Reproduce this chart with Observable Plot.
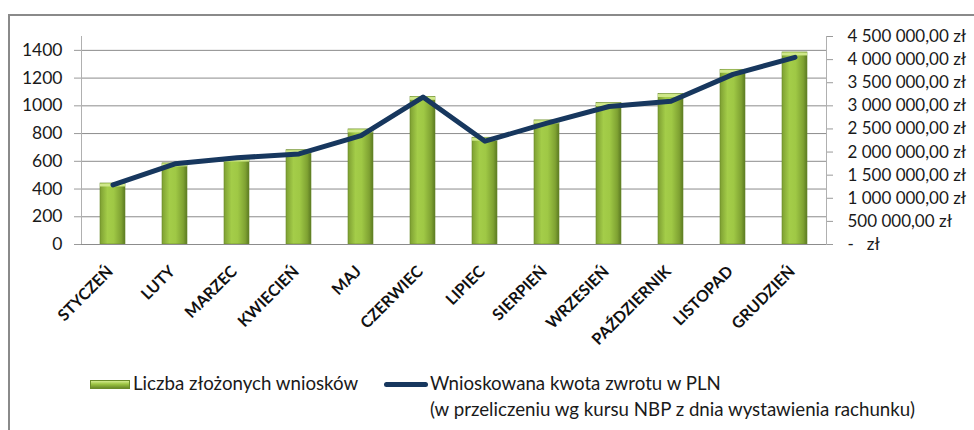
<!DOCTYPE html>
<html>
<head>
<meta charset="utf-8">
<script src="https://cdn.jsdelivr.net/npm/d3@7"></script>
<script src="https://cdn.jsdelivr.net/npm/@observablehq/plot@0.6"></script>
<style>
  html, body { margin: 0; padding: 0; background: #fff; }
  body { width: 974px; height: 430px; position: relative; overflow: hidden; font-family: Lato, "Open Sans", sans-serif; }
  #frame { position: absolute; left: 8px; top: 14px; width: 1100px; height: 600px; border-left: 2px solid #8a8a8a; border-top: 2px solid #8a8a8a; box-sizing: border-box; }
  #chart { position: absolute; left: 0; top: 0; }
  #legend { position: absolute; left: 90px; top: 370px; font-size: 18.7px; color: #1a1a1a; line-height: 26px; }
  .item { position: absolute; white-space: nowrap; }
  .sw-bar { display: inline-block; width: 40px; height: 9px; vertical-align: middle; margin-right: 3px; background: linear-gradient(#d2ea8c, #9cc443 45%, #6b8c2a); border: 1px solid #6b8c2a; box-sizing: border-box; position: relative; top: -1px; }
  .sw-line { display: inline-block; width: 44px; height: 5px; border-radius: 3px; background: #17375e; vertical-align: middle; margin-right: 2px; position: relative; top: -1px; }
</style>
</head>
<body>
<div id="frame"></div>
<div id="chart"></div>
<div id="legend">
  <div class="item" style="left:0; top:0;"><span class="sw-bar"></span>Liczba złożonych wniosków</div>
  <div class="item" style="left:294px; top:0;"><span class="sw-line"></span>Wnioskowana kwota zwrotu w PLN<br><span style="padding-left:46px">(w przeliczeniu wg kursu NBP z dnia wystawienia rachunku)</span></div>
</div>
<script>
const months = ["STYCZEŃ","LUTY","MARZEC","KWIECIEŃ","MAJ","CZERWIEC","LIPIEC","SIERPIEŃ","WRZESIEŃ","PAŹDZIERNIK","LISTOPAD","GRUDZIEŃ"];
const applications = [440, 585, 620, 680, 830, 1065, 770, 895, 1020, 1085, 1260, 1385];
const amountsPLN = [1290000, 1745000, 1875000, 1960000, 2355000, 3190000, 2235000, 2625000, 2985000, 3100000, 3680000, 4050000];
const leftTicks = [0, 200, 400, 600, 800, 1000, 1200, 1400];
const rightTicks = [0, 500000, 1000000, 1500000, 2000000, 2500000, 3000000, 3500000, 4000000, 4500000];
const leftMax = 1500;
const rightMax = 4500000;

const ratio = leftMax / rightMax;
const data = months.map((m, i) => ({month: m, count: applications[i], amount: amountsPLN[i] * ratio}));

function fmtPLN(v) {
  v = Math.round(v);
  if (v === 0) return "-\u00a0\u00a0\u00a0zł";
  return String(v).replace(/\B(?=(\d{3})+(?!\d))/g, " ") + ",00 zł";
}

const chart = Plot.plot({
  width: 974,
  height: 350,
  marginLeft: 81,
  marginRight: 148,
  marginTop: 36,
  marginBottom: 106,
  style: {fontFamily: "Lato, 'Open Sans', sans-serif", color: "#1a1a1a", background: "transparent", overflow: "visible"},
  x: {domain: months, paddingInner: 0.6, paddingOuter: 0.3, axis: null},
  y: {domain: [0, leftMax], axis: null},
  marks: [
    Plot.gridY(leftTicks, {stroke: "#8c8c8c", strokeOpacity: 1, strokeWidth: 1}),
    Plot.axisY({anchor: "left", ticks: leftTicks, tickSize: 7, stroke: "#9a9a9a", tickFormat: () => "", label: null}),
    Plot.text(leftTicks, {y: d => d, text: d => String(d), frameAnchor: "left", dx: -19, textAnchor: "end", fontSize: 17.5, fill: "#1a1a1a"}),
    Plot.frame({anchor: "left", stroke: "#b0b0b0"}),
    Plot.axisY({anchor: "right", ticks: rightTicks.map(v => v * ratio), tickSize: 6, stroke: "#9a9a9a", tickFormat: () => "", label: null}),
    Plot.text(rightTicks, {y: d => d * ratio, text: d => fmtPLN(d), frameAnchor: "right", dx: 21, textAnchor: "start", fontSize: 17, fill: "#1a1a1a"}),
    Plot.frame({anchor: "right", stroke: "#b0b0b0"}),
    Plot.barY(data, {x: "month", y: "count", fill: "url(#barGrad)", stroke: "#6a8a2a", strokeWidth: 0.6}),
    Plot.tickY(data, {x: "month", y: "count", stroke: "#cfe88a", strokeWidth: 3, dy: 1.5}),
    Plot.ruleY([0], {stroke: "#8c8c8c"}),
    Plot.line(data, {x: "month", y: "amount", stroke: "#17375e", strokeWidth: 5, strokeLinejoin: "round", strokeLinecap: "round"}),
    Plot.text(data, {x: "month", text: "month", frameAnchor: "bottom", dy: 28, dx: 1, rotate: -45, textAnchor: "end", lineAnchor: "bottom", fontWeight: "bold", fontSize: 16, fill: "#111"})
  ]
});

const defs = d3.select(chart).insert("defs", ":first-child");
const g = defs.append("linearGradient").attr("id", "barGrad").attr("x1", 0).attr("x2", 1).attr("y1", 0).attr("y2", 0);
[["0%", "#7d9f32"], ["30%", "#a4cd49"], ["55%", "#9fc845"], ["85%", "#7fa232"], ["100%", "#5c7a22"]].forEach(([o, c]) => g.append("stop").attr("offset", o).attr("stop-color", c));

document.getElementById("chart").appendChild(chart);
</script>
</body>
</html>
